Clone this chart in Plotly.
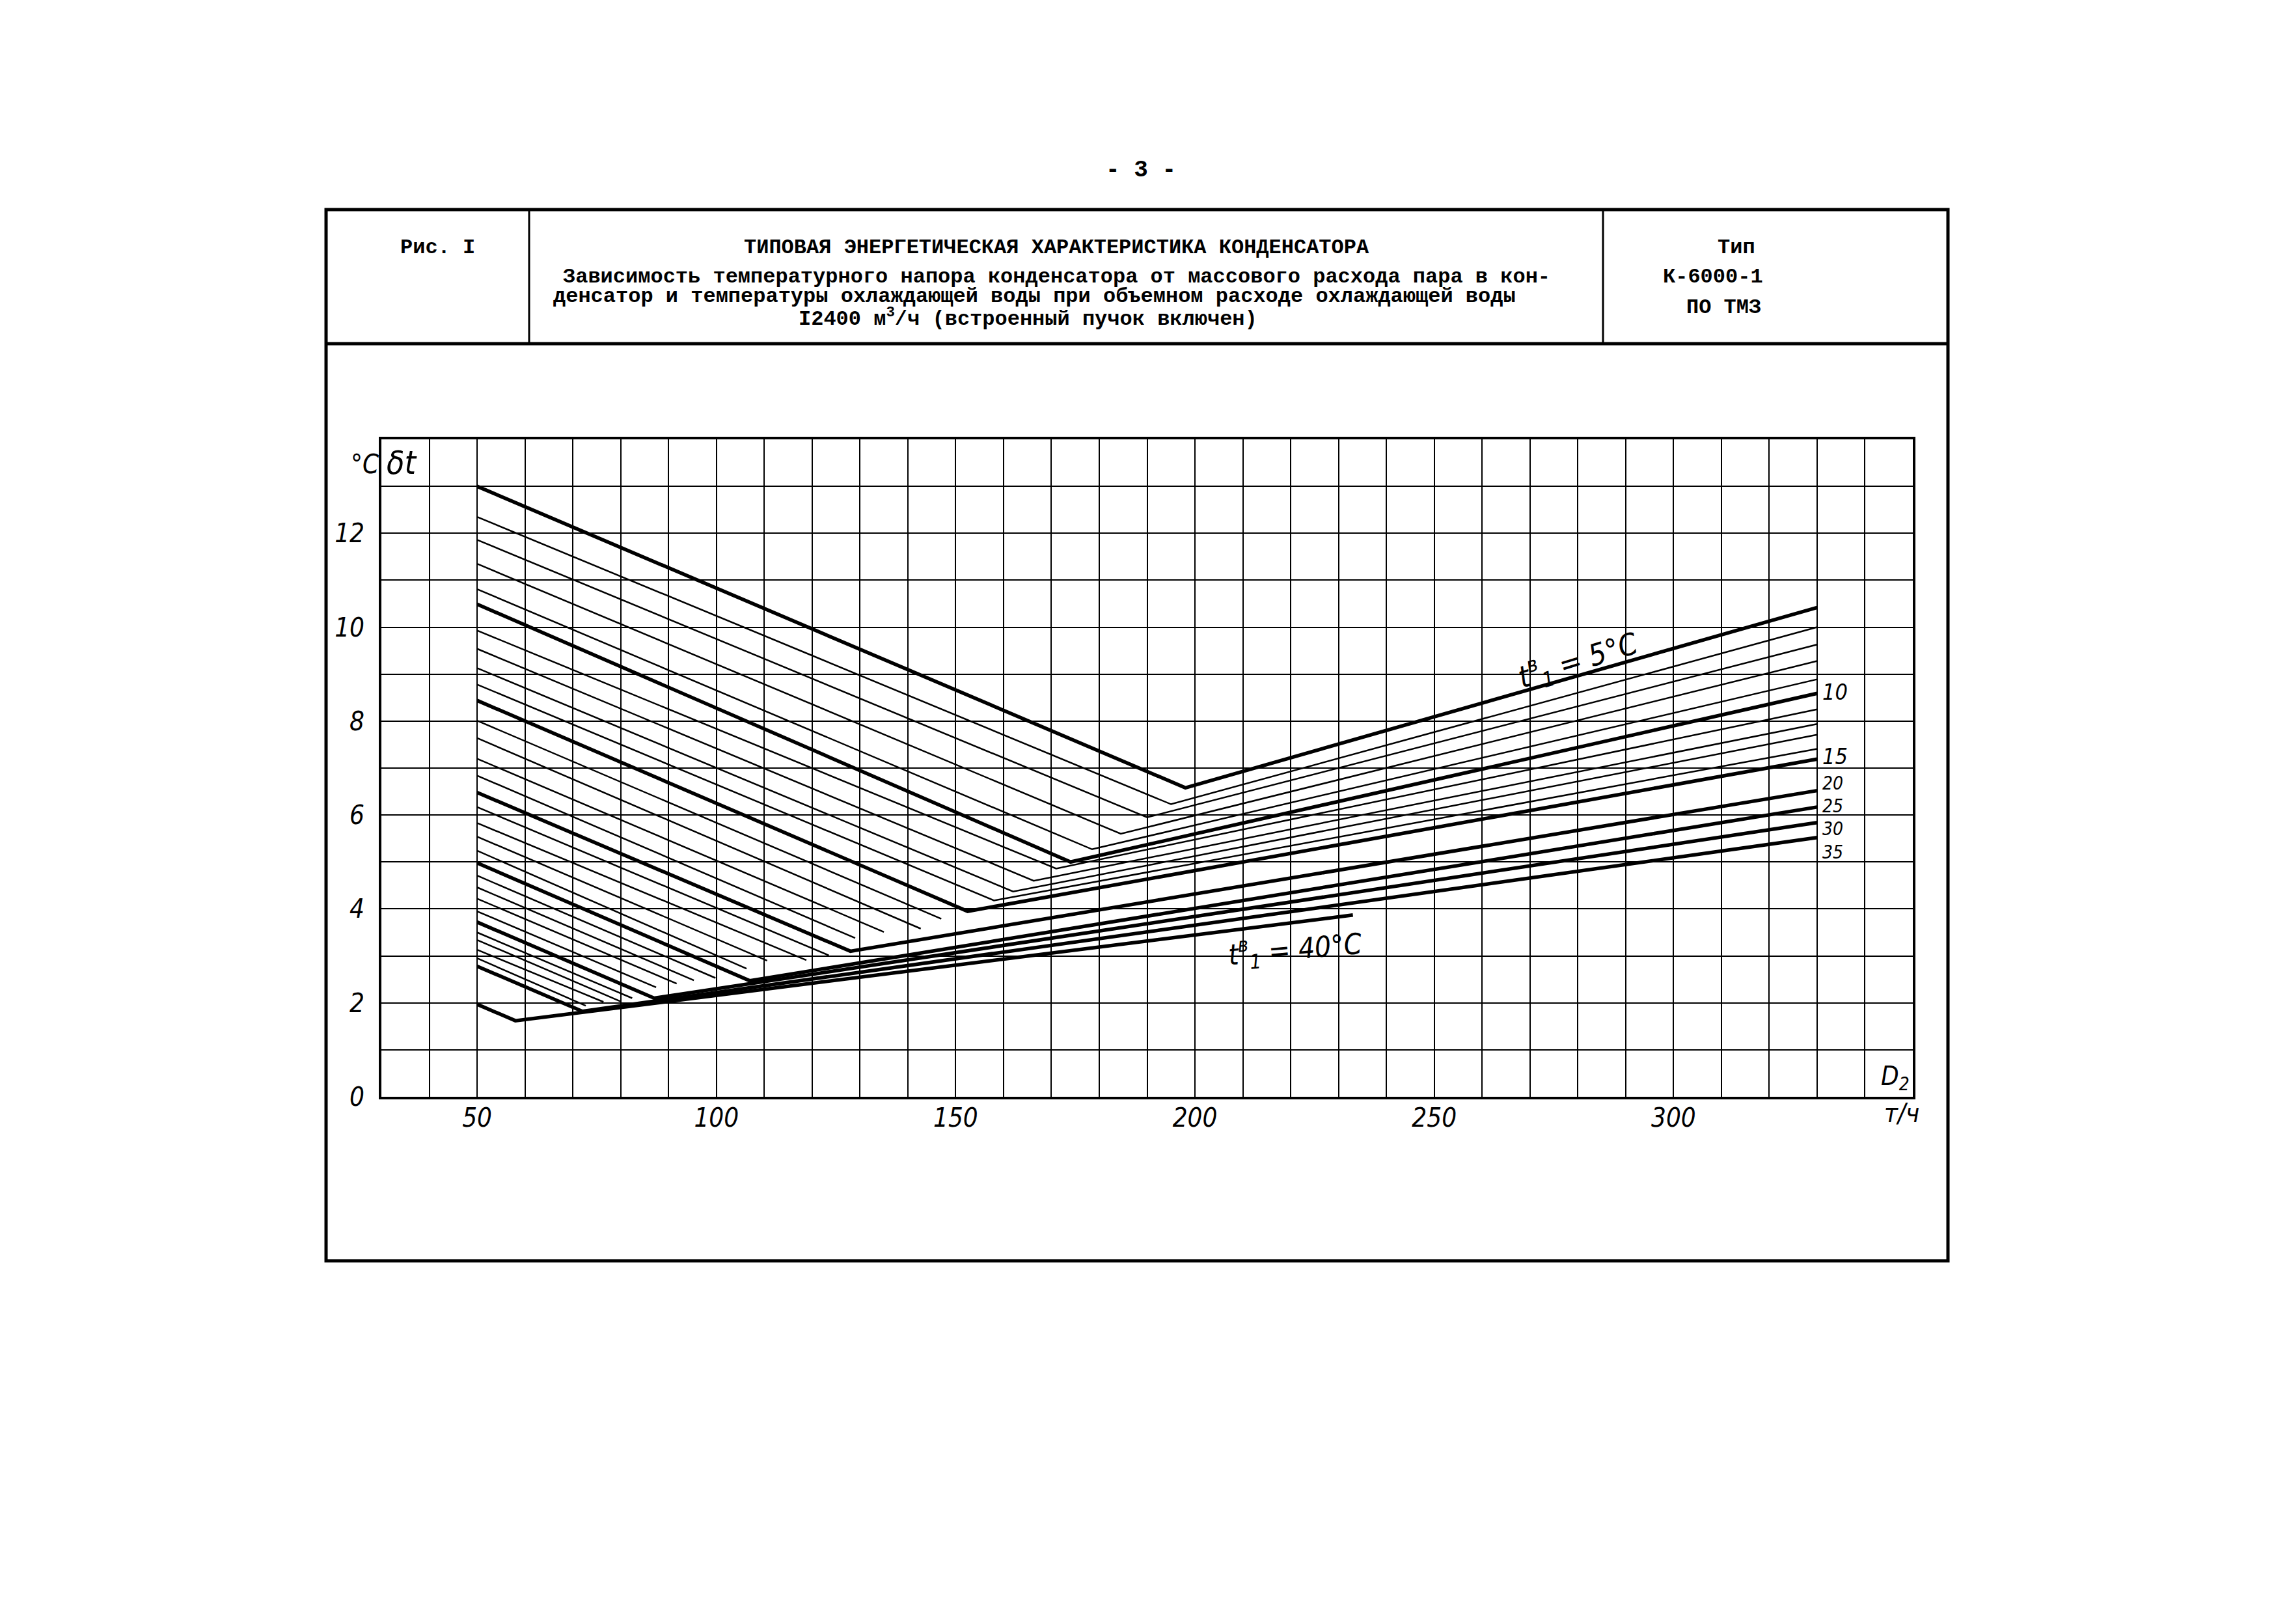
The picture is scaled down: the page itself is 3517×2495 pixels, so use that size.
import plotly.graph_objects as go

# ---------------- data ----------------
# V-shaped curves: t1 = 5..15 (every 1 degC) and 20, 25, 30, 35, 40
v_temps = [5, 6, 7, 8, 9, 10, 11, 12, 13, 14, 15, 20, 25, 30, 35, 40]
v_left_x = [50, 50, 50, 50, 50, 50, 50, 50, 50, 50, 50, 50, 50, 50, 50, 50]
v_left_y = [13.0, 12.35, 11.86, 11.35, 10.81, 10.49, 9.93, 9.54, 9.13, 8.78, 8.44, 6.48, 4.98, 3.72, 2.78, 1.97]
v_min_x = [198, 195, 190, 184.5, 178.5, 174, 171, 166.3, 162, 158, 152.5, 128, 107, 87, 72, 58]
v_min_y = [6.58, 6.23, 5.95, 5.60, 5.27, 5.0, 4.86, 4.60, 4.37, 4.18, 3.95, 3.1, 2.47, 2.1, 1.82, 1.62]
v_right_x = [330, 330, 330, 330, 330, 330, 330, 330, 330, 330, 330, 330, 330, 330, 330, 233]
v_right_y = [10.42, 10.0, 9.63, 9.28, 8.89, 8.59, 8.25, 7.94, 7.71, 7.41, 7.19, 6.52, 6.17, 5.84, 5.52, 3.87]
thick_temps = [5, 10, 15, 20, 25, 30, 35, 40]

# descending-only thin curves (t1 = 16..19, 21..24, 26..29, 31..34)
s_temps = [16, 17, 18, 19, 21, 22, 23, 24, 26, 27, 28, 29, 31, 32, 33, 34]
s_left_y = [8.01, 7.64, 7.20, 6.84, 6.17, 5.83, 5.54, 5.24, 4.71, 4.46, 4.22, 3.95, 3.50, 3.34, 3.13, 2.95]
s_end_x = [147, 142.7, 135, 129, 123.5, 118.8, 110.6, 106.3, 99.8, 95.3, 91.7, 87.4, 82.4, 80, 76.4, 72.7]
s_end_y = [3.79, 3.58, 3.51, 3.38, 3.01, 2.91, 2.9, 2.73, 2.53, 2.48, 2.41, 2.33, 2.1, 2.03, 2.02, 1.94]

x_tick_vals = [50, 100, 150, 200, 250, 300]
x_tick_text = ["50", "100", "150", "200", "250", "300"]
y_tick_vals = [0, 2, 4, 6, 8, 10, 12]
y_tick_text = ["0", "2", "4", "6", "8", "10", "12"]

right_labels = ["10", "15", "20", "25", "30", "35"]
right_label_y = [8.62, 7.25, 6.68, 6.19, 5.70, 5.21]

header_title = "ТИПОВАЯ ЭНЕРГЕТИЧЕСКАЯ ХАРАКТЕРИСТИКА КОНДЕНСАТОРА"
header_lines = [
    "Зависимость температурного напора конденсатора от массового расхода пара в кон-",
    "денсатор и температуры охлаждающей воды при объемном расходе охлаждающей воды",
]
header_last = "I2400 м<sup>3</sup>/ч (встроенный пучок включен)"

# ---------------- layout geometry ----------------
W, H = 3517, 2495
ML, MR, MT, MB = 578, 586, 667, 818
PW = W - ML - MR
PH = H - MT - MB


def pxp(x):
    return (x - ML) / PW


def pyp(y):
    return (H - MB - y) / PH


MONO = "Liberation Mono, DejaVu Sans Mono, monospace"
HAND = "Liberation Sans Narrow, DejaVu Sans Condensed, Liberation Sans, sans-serif"

fig = go.Figure()

for i, t in enumerate(v_temps):
    w = 5.5 if t in thick_temps else 2.5
    fig.add_trace(go.Scatter(
        x=[v_left_x[i], v_min_x[i], v_right_x[i]],
        y=[v_left_y[i], v_min_y[i], v_right_y[i]],
        mode="lines", line=dict(color="black", width=w),
        hoverinfo="skip", showlegend=False))

for i, t in enumerate(s_temps):
    fig.add_trace(go.Scatter(
        x=[50, s_end_x[i]], y=[s_left_y[i], s_end_y[i]],
        mode="lines", line=dict(color="black", width=2.5),
        hoverinfo="skip", showlegend=False))

fig.update_xaxes(
    range=[30, 350], tickmode="array", tickvals=x_tick_vals, ticktext=x_tick_text,
    showgrid=True, gridcolor="black", gridwidth=2,
    minor=dict(tick0=30, dtick=10, showgrid=True, gridcolor="black", gridwidth=2, ticks=""),
    showline=True, linecolor="black", linewidth=4, mirror=True,
    ticks="", zeroline=False, automargin=False, ticklabelstandoff=-6,
    tickfont=dict(family=HAND, size=40, color="black", style="italic"),
)
fig.update_yaxes(
    range=[0, 14], tickmode="array", tickvals=y_tick_vals, ticktext=y_tick_text,
    showgrid=True, gridcolor="black", gridwidth=2,
    minor=dict(tick0=0, dtick=1, showgrid=True, gridcolor="black", gridwidth=2, ticks=""),
    showline=True, linecolor="black", linewidth=4, mirror=True,
    ticks="", zeroline=False, automargin=False, ticklabelstandoff=14,
    tickfont=dict(family=HAND, size=40, color="black", style="italic"),
)

shapes = []
# outer frame and header table
shapes.append(dict(type="rect", xref="paper", yref="paper",
                   x0=pxp(493), x1=pxp(2985), y0=pyp(1929), y1=pyp(314),
                   line=dict(color="black", width=5)))
shapes.append(dict(type="line", xref="paper", yref="paper",
                   x0=pxp(493), x1=pxp(2985), y0=pyp(520), y1=pyp(520),
                   line=dict(color="black", width=5)))
for xx in (805, 2455):
    shapes.append(dict(type="line", xref="paper", yref="paper",
                       x0=pxp(xx), x1=pxp(xx), y0=pyp(314), y1=pyp(520),
                       line=dict(color="black", width=3)))

ann = []


def page_text(x, y, text, size=32, anchor="center", family=MONO, weight="bold"):
    ann.append(dict(xref="paper", yref="paper", x=pxp(x), y=pyp(y), text=text,
                    showarrow=False, xanchor=anchor, yanchor="middle",
                    font=dict(family=family, size=size, color="black", weight=weight)))


page_text(1745, 253, "- 3 -", size=36)
page_text(664, 373, "Рис. I")
page_text(1615, 373, header_title)
page_text(855, 417, header_lines[0], anchor="left")
page_text(840, 447, header_lines[1], anchor="left")
page_text(1571, 480, header_last)
page_text(2660, 373, "Тип")
page_text(2624, 417, "К-6000-1")
page_text(2640, 464, "ПО ТМЗ")

HF = dict(family=HAND, color="black", style="italic")

# axis annotations
ann.append(dict(xref="paper", yref="paper", x=pxp(553), y=pyp(705), text="°C",
                showarrow=False, xanchor="center", yanchor="middle", font=dict(size=40, **HF)))
ann.append(dict(xref="x", yref="y", x=30.8, y=13.5, text="δt", showarrow=False,
                xanchor="left", yanchor="middle", font=dict(size=50, **HF)))
ann.append(dict(xref="x", yref="y", x=346.3, y=0.4, text="D<sub>2</sub>", showarrow=False,
                xanchor="center", yanchor="middle", font=dict(size=40, **HF)))
ann.append(dict(xref="paper", yref="paper", x=pxp(2914), y=pyp(1702), text="т/ч",
                showarrow=False, xanchor="center", yanchor="middle", font=dict(size=40, **HF)))

for lab, yy in zip(right_labels, right_label_y):
    size = 34 if lab in ("10", "15") else 28
    ann.append(dict(xref="x", yref="y", x=331, y=yy, text=lab, showarrow=False,
                    xanchor="left", yanchor="middle", borderpad=0,
                    font=dict(size=size, **HF)))

ann.append(dict(xref="x", yref="y", x=280, y=9.3,
                text="t<sup>в</sup><sub>1</sub> = 5°C", showarrow=False, textangle=-17,
                xanchor="center", yanchor="middle", font=dict(size=46, **HF)))
ann.append(dict(xref="x", yref="y", x=221, y=3.15,
                text="t<sup>в</sup><sub>1</sub> = 40°C", showarrow=False, textangle=-5,
                xanchor="center", yanchor="middle", font=dict(size=44, **HF)))

fig.update_layout(
    template="none",
    width=W, height=H,
    margin=dict(l=ML, r=MR, t=MT, b=MB, autoexpand=False),
    paper_bgcolor="white", plot_bgcolor="white",
    showlegend=False,
    shapes=shapes, annotations=ann,
)

fig.write_html("out.html")
